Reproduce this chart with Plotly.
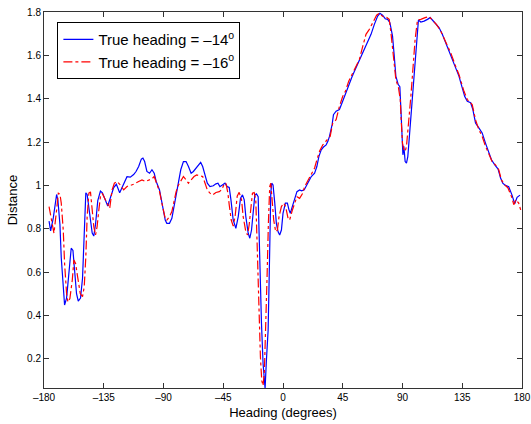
import plotly.graph_objects as go

# ---- data ----
heading_14 = [-176.2, -175.0, -173.0, -171.2, -170.5, -169.5, -168.0, -167.0, -165.5, -164.5,
              -163.0, -161.2, -159.5, -158.2, -157.0, -155.5, -154.2, -152.5, -151.0, -149.5,
              -148.5, -147.5, -145.5, -143.7, -142.5, -141.2, -139.5, -137.5, -136.0, -133.7,
              -132.0, -130.0, -127.5, -125.5, -123.0, -121.2, -119.5, -117.5, -115.0, -112.5,
              -110.7, -108.7, -106.7, -105.5, -104.2, -102.5, -100.5, -98.7, -97.0, -95.5,
              -93.0, -91.2, -90.0, -88.7, -87.5, -85.5, -83.7, -82.0, -80.5, -78.7,
              -77.0, -75.0, -73.0, -71.2, -69.2, -67.5, -65.5, -63.7, -62.0, -60.5,
              -58.7, -57.0, -55.0, -52.5, -50.5, -49.0, -47.5, -45.5, -43.7, -42.0,
              -40.5, -39.2, -37.5, -35.5, -33.7, -32.0, -30.5, -29.2, -28.0, -26.2,
              -25.0, -23.7, -22.5, -21.2, -20.0, -18.7, -18.0, -17.2, -16.2, -15.0,
              -14.2, -13.5, -12.5, -11.2, -10.5, -10.0, -9.2, -8.5, -7.5, -6.2,
              -5.0, -3.7, -2.5, -1.2, 0.0, 1.8, 3.3, 4.5, 5.5, 7.0,
              8.8, 10.5, 12.5, 14.0, 16.0, 18.0, 20.0, 21.3, 23.8, 25.5,
              27.0, 28.8, 30.5, 32.5, 33.8, 35.0, 37.0, 38.0, 40.0, 42.5,
              44.5, 46.3, 48.0, 50.0, 52.0, 53.8, 55.0, 57.5, 60.0, 62.5,
              66.3, 68.8, 71.3, 73.0, 75.0, 77.0, 78.8, 80.5, 82.5, 83.8,
              85.0, 86.8, 88.0, 88.8, 89.5, 90.3, 91.0, 92.0, 93.0, 94.0,
              95.0, 96.5, 98.0, 99.5, 100.5, 102.0, 103.8, 106.3, 108.8, 110.8,
              112.5, 115.0, 117.5, 120.0, 122.5, 125.0, 127.5, 130.0, 132.5, 135.0,
              136.8, 138.8, 141.3, 143.0, 145.0, 147.5, 150.0, 152.5, 155.0, 157.0,
              159.5, 162.0, 163.8, 165.5, 167.5, 170.0, 172.5, 174.5, 176.3, 178.5]
distance_14 = [0.835, 0.79, 0.85, 0.95, 0.958, 0.93, 0.82, 0.666, 0.51, 0.448,
               0.48, 0.62, 0.71, 0.70, 0.59, 0.50, 0.466, 0.48, 0.57, 0.85,
               0.966, 0.958, 0.866, 0.78, 0.766, 0.82, 0.93, 0.974, 0.966, 0.93,
               0.905, 0.943, 0.99, 1.005, 0.966, 0.99, 1.012, 1.04, 1.038, 1.05,
               1.064, 1.087, 1.121, 1.126, 1.110, 1.064, 1.056, 1.072, 1.056, 1.018,
               0.979, 0.925, 0.879, 0.840, 0.825, 0.825, 0.848, 0.902, 0.964, 1.025,
               1.072, 1.110, 1.110, 1.087, 1.056, 1.064, 1.080, 1.095, 1.106, 1.087,
               1.041, 1.010, 0.994, 0.998, 1.007, 1.010, 0.994, 1.002, 1.010, 0.994,
               0.99, 0.933, 0.840, 0.802, 0.856, 0.941, 0.956, 0.933, 0.856, 0.779,
               0.756, 0.794, 0.887, 0.956, 0.961, 0.948, 0.779, 0.547, 0.362, 0.177,
               0.084, 0.063, 0.192, 0.331, 0.547, 0.779, 0.964, 1.010, 1.002, 0.918,
               0.825, 0.786, 0.771, 0.794, 0.871, 0.918, 0.918, 0.887, 0.871, 0.902,
               0.933, 0.971, 0.979, 0.975, 0.98, 1.005, 1.03, 1.041, 1.056, 1.087,
               1.133, 1.164, 1.177, 1.187, 1.203, 1.226, 1.280, 1.326, 1.342, 1.350,
               1.381, 1.411, 1.442, 1.473, 1.501, 1.527, 1.543, 1.573, 1.61, 1.643,
               1.697, 1.743, 1.781, 1.794, 1.785, 1.769, 1.766, 1.751, 1.689, 1.596,
               1.504, 1.465, 1.455, 1.350, 1.242, 1.141, 1.180, 1.110, 1.103, 1.133,
               1.211, 1.334, 1.473, 1.581, 1.674, 1.763, 1.754, 1.758, 1.766, 1.774,
               1.763, 1.743, 1.728, 1.697, 1.658, 1.619, 1.581, 1.543, 1.504, 1.450,
               1.411, 1.388, 1.381, 1.350, 1.288, 1.265, 1.242, 1.195, 1.149, 1.118,
               1.095, 1.075, 1.035, 1.010, 1.0, 0.994, 0.955, 0.915, 0.945, 0.955]

heading_16 = [-176.2, -173.7, -172.5, -170.5, -169.2, -168.0, -167.0, -165.5, -164.5, -163.0,
              -162.0, -160.5, -158.7, -157.5, -156.2, -154.7, -152.7, -151.0, -149.7, -148.5,
              -147.5, -146.2, -145.0, -143.7, -142.5, -141.2, -140.0, -138.7, -137.5, -136.2,
              -135.0, -132.5, -130.5, -128.7, -127.0, -125.0, -122.5, -120.0, -117.5, -115.0,
              -112.5, -108.7, -106.2, -103.7, -101.2, -98.7, -97.0, -95.0, -93.0, -91.2,
              -90.0, -88.7, -87.5, -85.5, -83.7, -82.0, -80.5, -78.7, -77.0, -75.0,
              -73.0, -71.2, -69.2, -67.0, -65.0, -62.5, -60.5, -58.7, -57.0, -55.0,
              -53.0, -50.5, -48.0, -46.2, -44.5, -43.0, -41.5, -40.5, -39.0, -37.5,
              -36.0, -34.5, -33.0, -31.2, -30.0, -28.0, -26.7, -25.5, -24.2, -23.0,
              -21.7, -20.5, -19.5, -18.7, -18.0, -17.0, -16.0, -15.0, -14.0, -13.0,
              -12.0, -11.0, -10.0, -9.2, -8.2, -7.0, -5.5, -4.2, -3.0, -1.2,
              0.5, 2.0, 3.8, 5.0, 7.0, 8.8, 10.5, 12.5, 14.5, 16.3,
              18.8, 21.3, 23.8, 25.5, 27.5, 30.0, 33.8, 35.5, 37.5, 40.0,
              42.5, 45.0, 47.0, 49.5, 52.0, 54.5, 57.5, 60.0, 62.5, 65.0,
              67.5, 70.5, 72.5, 75.0, 78.0, 80.0, 81.3, 83.0, 85.0, 87.0,
              88.3, 89.0, 90.0, 91.0, 92.0, 93.0, 94.5, 96.3, 98.0, 99.5,
              101.3, 103.8, 107.0, 110.0, 112.5, 115.5, 118.8, 122.5, 126.3, 130.0,
              132.5, 136.3, 138.8, 142.5, 145.0, 147.5, 150.0, 152.5, 155.0, 157.5,
              160.0, 162.5, 164.5, 167.0, 169.5, 172.0, 173.8, 175.5, 177.5, 179.0]
distance_16 = [0.902, 0.810, 0.779, 0.887, 0.964, 0.96, 0.918, 0.794, 0.640, 0.501,
               0.462, 0.478, 0.563, 0.656, 0.64, 0.579, 0.501, 0.486, 0.532, 0.671,
               0.856, 0.964, 0.97, 0.887, 0.81, 0.771, 0.81, 0.887, 0.948, 0.964,
               0.948, 0.918, 0.894, 0.979, 1.010, 1.018, 1.002, 0.979, 0.995, 1.0,
               1.005, 1.018, 1.025, 1.018, 1.025, 1.03, 1.041, 1.002, 0.971, 0.918,
               0.879, 0.848, 0.84, 0.856, 0.879, 0.925, 0.971, 1.002, 1.018, 1.041,
               1.025, 1.010, 1.025, 1.041, 1.048, 1.045, 1.041, 1.010, 0.979, 0.964,
               0.956, 0.967, 0.971, 0.979, 1.002, 1.010, 0.964, 0.91, 0.84, 0.812,
               0.86, 0.95, 0.968, 0.933, 0.856, 0.786, 0.771, 0.817, 0.902, 0.964,
               0.967, 0.933, 0.733, 0.547, 0.362, 0.207, 0.099, 0.076, 0.146, 0.331,
               0.578, 0.825, 0.994, 1.01, 0.933, 0.84, 0.786, 0.794, 0.856, 0.902,
               0.918, 0.902, 0.848, 0.84, 0.885, 0.918, 0.948, 0.94, 0.96, 0.994,
               1.025, 1.056, 1.080, 1.118, 1.157, 1.187, 1.211, 1.226, 1.288, 1.303,
               1.365, 1.411, 1.434, 1.481, 1.512, 1.543, 1.581, 1.64, 1.697, 1.720,
               1.751, 1.785, 1.794, 1.78, 1.775, 1.766, 1.704, 1.596, 1.488, 1.45,
               1.396, 1.303, 1.195, 1.164, 1.157, 1.180, 1.272, 1.411, 1.550, 1.674,
               1.763, 1.766, 1.774, 1.779, 1.763, 1.743, 1.712, 1.666, 1.612, 1.550,
               1.512, 1.434, 1.396, 1.373, 1.303, 1.257, 1.226, 1.180, 1.141, 1.11,
               1.095, 1.072, 1.025, 1.002, 0.987, 0.95, 0.911, 0.934, 0.918, 0.887]

x_ticks = [-180, -135, -90, -45, 0, 45, 90, 135, 180]
x_ticklabels = ["–180", "–135", "–90", "–45", "0", "45", "90", "135", "180"]
y_ticks = [0.2, 0.4, 0.6, 0.8, 1.0, 1.2, 1.4, 1.6, 1.8]
y_ticklabels = ["0.2", "0.4", "0.6", "0.8", "1", "1.2", "1.4", "1.6", "1.8"]

name_14 = "True heading = –14<sup>o</sup>"
name_16 = "True heading = –16<sup>o</sup>"

font_family = "Liberation Sans, Arial, Helvetica, sans-serif"

fig = go.Figure()
fig.add_trace(go.Scatter(x=heading_14, y=distance_14, mode="lines", name=name_14,
                         line=dict(color="#0000FF", width=1.2)))
fig.add_trace(go.Scatter(x=heading_16, y=distance_16, mode="lines", name=name_16,
                         line=dict(color="#FF0000", width=1.2, dash="dashdot")))

axis_common = dict(showline=True, linecolor="#333333", linewidth=1, mirror="ticks",
                   ticks="inside", ticklen=5, tickcolor="#333333", showgrid=False,
                   zeroline=False, ticklabeloverflow="allow", automargin=False,
                   tickfont=dict(size=10, color="black", family=font_family))

fig.update_xaxes(range=[-180, 180], tickmode="array", tickvals=x_ticks, ticktext=x_ticklabels,
                 title=dict(text="Heading (degrees)", font=dict(size=13, color="black", family=font_family),
                            standoff=5),
                 **axis_common)
fig.update_yaxes(range=[0.065, 1.8], tickmode="array", tickvals=y_ticks, ticktext=y_ticklabels,
                 title=dict(text="Distance", font=dict(size=13, color="black", family=font_family),
                            standoff=6),
                 **axis_common)

fig.update_layout(
    width=531, height=424,
    margin=dict(l=44, r=9, t=12, b=36),
    paper_bgcolor="white", plot_bgcolor="white",
    font=dict(family=font_family, color="black"),
    legend=dict(x=0.028, y=0.973, xanchor="left", yanchor="top",
                bgcolor="white", bordercolor="black", borderwidth=1,
                font=dict(size=15, color="black", family=font_family),
                itemwidth=30, tracegroupgap=0),
    showlegend=True,
)

# remove the browser's default 8px page margin so the figure sits at the window origin
fig.write_html("out.html",
               config={"displayModeBar": False},
               post_script="document.body.style.margin='0px';document.body.style.overflow='hidden';")
